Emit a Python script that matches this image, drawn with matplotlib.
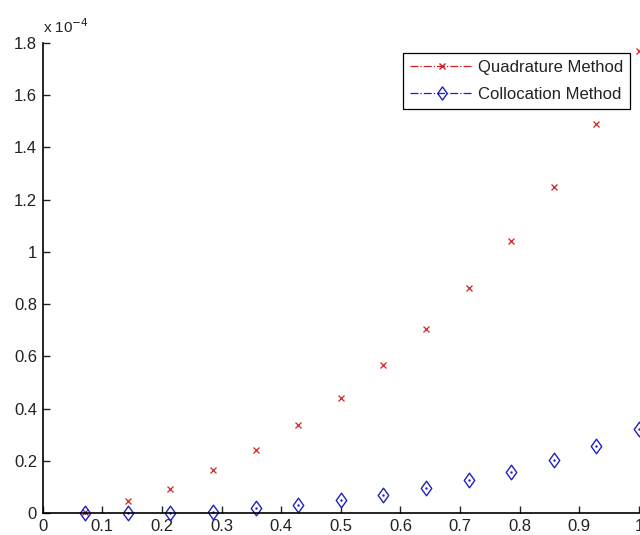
import numpy as np
import matplotlib
matplotlib.use('Agg')
import matplotlib.pyplot as plt
from matplotlib.lines import Line2D
from matplotlib.path import Path

# node positions (k/14)
x = [1/14, 2/14, 3/14, 4/14, 5/14, 6/14, 7/14, 8/14, 9/14, 10/14, 11/14, 12/14, 13/14, 1.0]

# values in units of 1e-4
quad = [0.005, 0.046, 0.092, 0.165, 0.241, 0.337, 0.44, 0.567, 0.705, 0.862, 1.042, 1.249, 1.49, 1.77]
coll = [0.0, 0.0, 0.0, 0.005, 0.02, 0.03, 0.05, 0.069, 0.096, 0.126, 0.157, 0.203, 0.257, 0.322]

xticks = [0, 0.1, 0.2, 0.3, 0.4, 0.5, 0.6, 0.7, 0.8, 0.9, 1]
yticks = [0, 0.2, 0.4, 0.6, 0.8, 1, 1.2, 1.4, 1.6, 1.8]

plt.rcParams['font.family'] = ['Liberation Sans', 'DejaVu Sans']

# slightly tall diamond marker, like MATLAB's on a stretched figure
diamond = Path([(0, 1), (0.72, 0), (0, -1), (-0.72, 0), (0, 1)],
               [Path.MOVETO, Path.LINETO, Path.LINETO, Path.LINETO, Path.CLOSEPOLY])

fig = plt.figure(figsize=(6.4, 5.35), dpi=100)
ax = fig.add_axes([0.0665, 0.041, 0.932, 0.879])

ax.plot(x, np.array(quad) * 1e-4, color='#d42020', linestyle='none',
        marker='x', markersize=5, markeredgewidth=0.9, clip_on=False)
ax.plot(x, np.array(coll) * 1e-4, color='#2020c0', linestyle='none',
        marker=diamond, markersize=10.5, markerfacecolor='none', markeredgewidth=1.0,
        clip_on=False)
# centre dots of the diamonds
ax.plot(x, np.array(coll) * 1e-4, color='#2020c0', linestyle='none',
        marker='.', markersize=1.5, clip_on=False)

ax.set_xlim(0, 1)
ax.set_ylim(0, 1.8e-4)
ax.set_xticks(xticks)
ax.set_xticklabels(['0', '0.1', '0.2', '0.3', '0.4', '0.5', '0.6', '0.7', '0.8', '0.9', '1'])
ax.set_yticks(np.array(yticks) * 1e-4)
ax.set_yticklabels(['0', '0.2', '0.4', '0.6', '0.8', '1', '1.2', '1.4', '1.6', '1.8'])
ax.tick_params(direction='in', length=5, labelsize=12, width=1, pad=4, colors='#222222')

ax.spines['top'].set_visible(False)
ax.spines['right'].set_visible(False)
for s in ['left', 'bottom']:
    ax.spines[s].set_linewidth(1.2)

fig.text(43 / 640, 1 - 33 / 535, r'x 10$^{\mathsf{-4}}$', fontsize=11, ha='left', va='baseline',
         color='#222222')

# legend handles with dash-dot lines
h1 = Line2D([], [], color='#d42020', linestyle='-.', linewidth=0.9, marker='x', markersize=5)
h2 = Line2D([], [], color='#2020c0', linestyle='-.', linewidth=0.9, marker=diamond, markersize=9.5,
            markerfacecolor='none')
leg = ax.legend([h1, h2], ['Quadrature Method', 'Collocation Method'],
                loc='upper right', bbox_to_anchor=(0.9855, 0.978), fontsize=12,
                frameon=True, fancybox=False, edgecolor='black', framealpha=1,
                handlelength=3.8, borderpad=0.4, labelspacing=0.75, handletextpad=0.3,
                borderaxespad=0)
leg.get_frame().set_linewidth(0.9)
for t in leg.get_texts():
    t.set_color('#222222')

fig.savefig('out.png', dpi=100)
